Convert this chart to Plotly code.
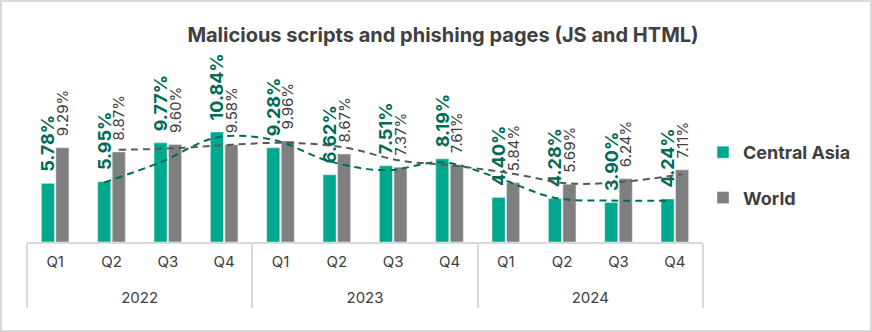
import plotly.graph_objects as go

years = ["2022"] * 4 + ["2023"] * 4 + ["2024"] * 4
quarters = ["Q1", "Q2", "Q3", "Q4"] * 3
central_asia = [5.78, 5.95, 9.77, 10.84, 9.28, 6.62, 7.51, 8.19, 4.40, 4.28, 3.90, 4.24]
world = [9.29, 8.87, 9.60, 9.58, 9.96, 8.67, 7.37, 7.61, 5.84, 5.69, 6.24, 7.11]
title = "Malicious scripts and phishing pages (JS and HTML)"

W, H = 872, 332
L, R, T, B = 27, 169, 50, 90
PW, PH = W - L - R, H - T - B
PX_PER_UNIT = 10.15
BARGAP = 0.485

TEAL = "#00A88E"
GRAY = "#7F7F7F"
DKGREEN = "#006B57"
DKGRAY = "#404040"
FONT = "Inter"
PAD = "\u00a0\u00a0"


def moving_avg(vals):
    return [(vals[i - 1] + vals[i]) / 2 for i in range(1, len(vals))]


year_labels = [f"<br>{y}" for y in years]

fig = go.Figure()
fig.add_trace(go.Bar(
    x=[year_labels, quarters], y=central_asia, name="Central Asia",
    marker_color=TEAL, legendgroup="ca",
    text=[f"{PAD}{v:.2f}%" for v in central_asia], textposition="outside",
    textangle=-90, cliponaxis=False, constraintext="none",
    outsidetextfont=dict(family=FONT, size=18, color=DKGREEN, weight="bold"),
))
fig.add_trace(go.Bar(
    x=[year_labels, quarters], y=world, name="World",
    marker_color=GRAY, legendgroup="w",
    text=[f"{PAD}{v:.2f}%" for v in world], textposition="outside",
    textangle=-90, cliponaxis=False, constraintext="none",
    outsidetextfont=dict(family=FONT, size=15, color=DKGRAY),
))

off = (1 - BARGAP) / 4
idx = list(range(1, len(central_asia)))
fig.add_trace(go.Scatter(
    x=[i - off for i in idx], y=moving_avg(central_asia), xaxis="x2",
    mode="lines", line=dict(color=DKGREEN, width=2, dash="7px,5px", shape="spline"),
    showlegend=False, hoverinfo="skip",
))
fig.add_trace(go.Scatter(
    x=[i + off for i in idx], y=moving_avg(world), xaxis="x2",
    mode="lines", line=dict(color="#595959", width=2, dash="7px,5px", shape="spline"),
    showlegend=False, hoverinfo="skip",
))

fig.update_layout(
    width=W, height=H,
    margin=dict(l=L, r=R, t=T, b=B, autoexpand=False),
    paper_bgcolor="white", plot_bgcolor="white",
    barmode="group", bargap=BARGAP, bargroupgap=0.1,
    title=dict(text=f"<b>{title}</b>", x=443 / W, xanchor="center",
               y=1 - 35 / H, yanchor="middle", xref="container", yref="container",
               font=dict(family=FONT, size=20, color=DKGRAY)),
    xaxis=dict(type="multicategory", showline=True, linecolor="#D9D9D9", linewidth=2,
               showdividers=True, dividercolor="#D9D9D9", dividerwidth=2,
               ticklabelstandoff=5,
               tickfont=dict(family=FONT, size=15, color=DKGRAY), showgrid=False),
    xaxis2=dict(overlaying="x", range=[-0.5, len(central_asia) - 0.5], visible=False),
    yaxis=dict(range=[0, PH / PX_PER_UNIT], visible=False, showgrid=False),
    legend=dict(xref="container", yref="container", x=703 / W, y=1 - 175 / H,
                xanchor="left", yanchor="middle", tracegroupgap=19,
                font=dict(family=FONT, size=18, color=DKGRAY, weight="bold")),
    showlegend=True,
    shapes=[dict(type="rect", xref="paper", yref="paper",
                 x0=(1 - L) / PW, x1=(W - 1 - L) / PW,
                 y0=(H - B - (H - 1)) / PH, y1=(H - B - 1) / PH,
                 line=dict(color="#D9D9D9", width=2), layer="below")],
)

fig.write_html("out.html")
